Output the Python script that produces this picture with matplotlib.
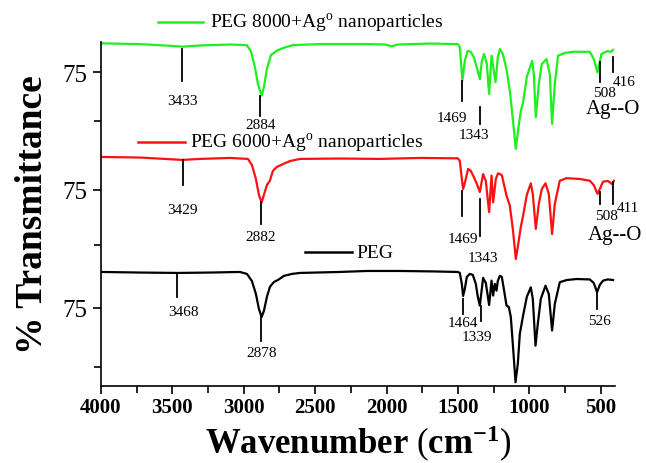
import matplotlib
matplotlib.use("Agg")
import matplotlib.pyplot as plt
from matplotlib.ticker import FixedLocator

plt.rcParams['font.family'] = ['Liberation Serif', 'DejaVu Serif']
plt.rcParams['mathtext.fontset'] = 'custom'
plt.rcParams['mathtext.rm'] = 'Liberation Serif'
plt.rcParams['mathtext.bf'] = 'Liberation Serif:bold'

# FTIR spectra (wavenumber cm-1, % transmittance)
peg_wn = [4000, 3727, 3461, 3237, 3027, 2978, 2943, 2915, 2894, 2875, 2859, 2838, 2817, 2789,
          2761, 2719, 2663, 2607, 2327, 2138, 1907, 1697, 1501, 1487, 1473, 1464, 1452, 1438,
          1417, 1396, 1375, 1361, 1347, 1333, 1324, 1305, 1282, 1265, 1254, 1242, 1230, 1221,
          1207, 1193, 1179, 1160, 1144, 1130, 1116, 1097, 1081, 1067, 1044, 1018, 990, 976,
          957, 941, 920, 887, 864, 841, 822, 787, 738, 670, 577, 549, 526, 507, 484, 451, 414]
peg_t = [93.3, 93.0, 92.8, 93.0, 93.3, 92.3, 88.7, 82.1, 74.5, 70.4, 73.5, 80.6, 85.7, 88.2,
         89.2, 91.3, 92.3, 92.8, 93.3, 93.8, 93.8, 93.6, 93.3, 92.8, 87.2, 81.1, 84.7, 90.8,
         92.3, 91.8, 87.2, 80.6, 76.2, 84.7, 90.3, 87.7, 76.5, 88.9, 81.3, 87.2, 83.8, 88.7,
         91.4, 90.8, 84.7, 76.2, 75.5, 70.4, 56.7, 37.2, 46.5, 61.8, 71.1, 80.6, 85.5, 79.6,
         55.8, 66.9, 79.6, 86.3, 82.1, 63.5, 77.0, 88.1, 89.2, 89.7, 89.5, 87.7, 83.0, 86.7,
         88.9, 89.5, 89.2]

peg6_wn = [4000, 3727, 3552, 3431, 3307, 3097, 2971, 2943, 2915, 2894, 2875, 2859, 2838, 2817,
           2796, 2770, 2724, 2677, 2607, 2327, 2047, 1767, 1501, 1487, 1473, 1464, 1452, 1429,
           1410, 1389, 1368, 1347, 1333, 1324, 1305, 1282, 1265, 1254, 1235, 1219, 1193, 1179,
           1160, 1137, 1116, 1095, 1078, 1060, 1044, 1018, 990, 976, 955, 934, 913, 887, 864,
           841, 822, 787, 740, 647, 577, 549, 523, 507, 484, 451, 423, 407]
peg6_t = [91.8, 91.5, 90.8, 90.3, 90.8, 91.3, 90.8, 87.7, 80.6, 72.5, 68.7, 72.5, 77.5, 79.7,
          84.7, 86.7, 88.2, 89.7, 90.8, 91.0, 90.8, 91.3, 91.1, 89.7, 80.6, 75.5, 78.6, 85.7,
          84.7, 81.6, 78.1, 74.0, 79.6, 83.1, 79.6, 63.7, 82.3, 68.7, 80.6, 83.5, 82.6, 78.1,
          72.1, 67.0, 55.2, 39.9, 47.5, 56.2, 61.9, 72.5, 78.4, 73.0, 55.2, 67.9, 75.5, 78.4,
          73.0, 52.6, 67.9, 79.7, 81.0, 80.6, 79.7, 77.5, 73.0, 75.5, 79.2, 79.6, 78.1, 79.7]

peg8_wn = [4000, 3727, 3552, 3426, 3307, 3097, 2980, 2950, 2922, 2901, 2875, 2859, 2838, 2810,
           2770, 2726, 2656, 2467, 2117, 2012, 1965, 1921, 1697, 1501, 1487, 1469, 1452, 1433,
           1410, 1389, 1359, 1347, 1333, 1317, 1298, 1282, 1265, 1237, 1221, 1207, 1186, 1160,
           1137, 1116, 1095, 1078, 1060, 1044, 1018, 981, 969, 955, 934, 913, 880, 857, 841,
           822, 799, 752, 694, 577, 549, 523, 507, 495, 451, 430, 414]
peg8_t = [89.6, 89.2, 88.5, 87.9, 88.5, 89.0, 88.7, 85.7, 77.5, 68.9, 63.0, 67.4, 76.5, 83.6,
          85.8, 87.2, 88.7, 89.2, 89.2, 89.0, 88.1, 89.0, 89.5, 89.2, 87.7, 70.6, 80.6, 85.8,
          85.2, 82.6, 74.8, 71.4, 80.6, 84.2, 79.1, 63.8, 83.3, 69.8, 82.6, 86.7, 84.2, 76.5,
          65.5, 51.1, 35.9, 46.0, 55.2, 59.6, 72.5, 80.7, 74.0, 52.0, 68.9, 79.1, 81.6, 74.0,
          48.6, 68.9, 83.3, 84.7, 85.3, 85.3, 81.6, 74.8, 80.1, 84.2, 85.7, 85.2, 86.3]

offsets = [0, 60, 120]

fig = plt.figure(figsize=(6.46, 4.64), dpi=100)
ax = fig.add_axes([0.1563, 0.166, 0.7958, 0.741])

ax.plot(peg_wn, [t + offsets[0] for t in peg_t], color='black', lw=1.6)
ax.plot(peg6_wn, [t + offsets[1] for t in peg6_t], color='#ff1010', lw=1.6)
ax.plot(peg8_wn, [t + offsets[2] for t in peg8_t], color='#1ef01e', lw=1.6)

ax.set_xlim(4000, 400)
ax.set_ylim(35.3, 210.2)

# peak markers: (wavenumber, line top, line bottom, label x, label y, text)
marks = [
    (3433, 190.4, 206.7, 3433, 180.7, '3433'), (2884, 172.6, 182.8, 2884, 168.5, '2884'),
    (1469, 180.4, 190.6, 1545, 172.0, '1469'), (1343, 168.5, 177.2, 1389, 163.0, '1343'),
    (508, 189.9, 200.1, 477, 184.7, '508'), (416, 195.0, 202.6, 337, 190.0, '416'),
    (3429, 137.7, 150.2, 3429, 125.3, '3429'), (2882, 117.7, 128.7, 2882, 111.5, '2882'),
    (1469, 121.9, 134.6, 1464, 110.1, '1469'), (1343, 111.8, 130.4, 1324, 100.8, '1343'),
    (508, 127.9, 134.0, 460, 121.9, '508'), (411, 127.9, 139.0, 313, 126.1, '411'),
    (3468, 80.4, 92.3, 3424, 73.1, '3468'), (2878, 58.4, 70.4, 2878, 52.5, '2878'),
    (1464, 72.0, 79.6, 1464, 67.7, '1464'), (1339, 68.5, 76.2, 1370, 60.6, '1339'),
    (526, 74.5, 83.0, 512, 68.5, '526'),
]
for wn, y0, y1, tx, ty, s in marks:
    ax.plot([wn, wn], [y0, y1], color='black', lw=1.3)
    ax.text(tx, ty, s, fontsize=11, ha='center', va='center', clip_on=False)

ax.text(414, 176.5, 'Ag--O', fontsize=15, ha='center', va='center')
ax.text(402, 112.6, 'Ag--O', fontsize=15, ha='center', va='center')

# in-plot legends
ax.plot([3601, 3286], [220.2, 220.2], color='#1ef01e', lw=1.8, clip_on=False)
ax.text(3237, 220.2, 'PEG 8000+Ag$^{\\rm o}$ nanoparticles', fontsize=14, va='center')
ax.plot([3741, 3412], [159.2, 159.2], color='#ff1010', lw=1.8)
ax.text(3377, 159.2, 'PEG 6000+Ag$^{\\rm o}$ nanoparticles', fontsize=14, va='center')
ax.plot([2572, 2243], [103.3, 103.3], color='black', lw=1.8)
ax.text(2208, 103.3, 'PEG', fontsize=14, va='center')

ax.spines['top'].set_visible(False)
ax.spines['right'].set_visible(False)
ax.spines['left'].set_linewidth(1.2)
ax.spines['bottom'].set_linewidth(1.2)

ax.set_xticks([4000, 3500, 3000, 2500, 2000, 1500, 1000, 500])
ax.xaxis.set_minor_locator(FixedLocator([3750, 3250, 2750, 2250, 1750, 1250, 750]))
ax.set_xticklabels(['4000', '3500', '3000', '2500', '2000', '1500', '1000', '500'],
                   fontsize=15, fontweight='bold')
ax.set_yticks([75, 135, 195])
ax.set_yticklabels(['75', '75', '75'], fontsize=18)
ax.yaxis.set_minor_locator(FixedLocator([45, 107, 170]))
ax.tick_params(which='major', direction='out', length=6, width=1.2)
ax.tick_params(which='minor', direction='out', length=5, width=1.2)
ax.tick_params(axis='x', pad=2)

ax.set_xlabel('Wavenumber $\\rm{(}\\mathbf{cm}^{\\mathbf{-1}}\\rm{)}$', fontsize=25,
              fontweight='bold', labelpad=4)
ax.set_ylabel('% Transmittance', fontsize=27, fontweight='bold', labelpad=9)

plt.savefig('out.png', dpi=100)
